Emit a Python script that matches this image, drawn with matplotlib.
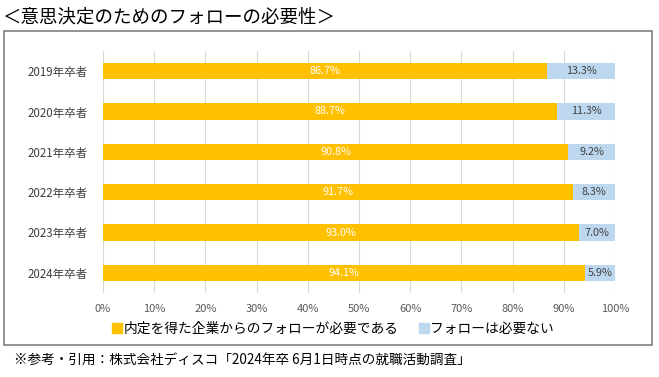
import matplotlib
matplotlib.use("Agg")
import matplotlib.pyplot as plt
from matplotlib.patches import Rectangle, Patch

plt.rcParams['font.family'] = ['Noto Sans CJK JP', 'DejaVu Sans']

categories = ["2019年卒者", "2020年卒者", "2021年卒者", "2022年卒者", "2023年卒者", "2024年卒者"]
need = [86.7, 88.7, 90.8, 91.7, 93.0, 94.1]
no_need = [13.3, 11.3, 9.2, 8.3, 7.0, 5.9]
series_names = ["内定を得た企業からのフォローが必要である", "フォローは必要ない"]
xticks = [0, 10, 20, 30, 40, 50, 60, 70, 80, 90, 100]

c_need = "#FFC000"
c_no = "#BDD7EE"

W, H = 659, 377
fig = plt.figure(figsize=(W / 100, H / 100), dpi=100)

# outer frame
fig.patches.append(Rectangle((4 / W, 1 - 345 / H), 648 / W, 314 / H,
                             transform=fig.transFigure, fill=False,
                             edgecolor="#7f7f7f", linewidth=1.2))

fig.text(2 / W, 1 - 18 / H, "＜意思決定のためのフォローの必要性＞", fontsize=13.3,
         va="center", ha="left", color="#000000")
fig.text(14 / W, 1 - 360 / H, "※参考・引用：株式会社ディスコ「2024年卒 6月1日時点の就職活動調査」",
         fontsize=9.8, va="center", ha="left", color="#000000")

ax = fig.add_axes([103 / W, 1 - 293 / H, 512 / W, 242 / H])
y = list(range(len(categories)))
h = 0.4
ax.barh(y, need, height=h, color=c_need, label=series_names[0], zorder=3)
ax.barh(y, no_need, left=need, height=h, color=c_no, label=series_names[1], zorder=3)

for i in y:
    ax.text(need[i] / 2, i, f"{need[i]:.1f}%", ha="center", va="center",
            color="white", fontsize=7.8, zorder=4)
    ax.text(need[i] + no_need[i] / 2, i, f"{no_need[i]:.1f}%", ha="center", va="center",
            color="#404040", fontsize=7.8, zorder=4)

ax.set_xlim(0, 100)
ax.set_ylim(len(categories) - 0.5, -0.5)
ax.set_yticks(y)
ax.set_yticklabels(categories, fontsize=8.3, color="#404040")
ax.set_xticks(xticks)
ax.set_xticklabels([f"{t}%" for t in xticks], fontsize=8, color="#595959")
ax.tick_params(axis="y", length=0, pad=11)
ax.tick_params(axis="x", length=0, pad=8)
ax.grid(axis="x", color="#d9d9d9", linewidth=0.8, zorder=0)
for s in ax.spines.values():
    s.set_visible(False)

handles = [Patch(color=c_need), Patch(color=c_no)]
fig.legend(handles, series_names, loc="center", bbox_to_anchor=(333 / W, 1 - 329 / H),
           ncol=2, frameon=False, fontsize=9.9, handlelength=0.7, handleheight=0.7,
           handletextpad=0.1, columnspacing=1.5)

fig.savefig("out.png", dpi=100)
